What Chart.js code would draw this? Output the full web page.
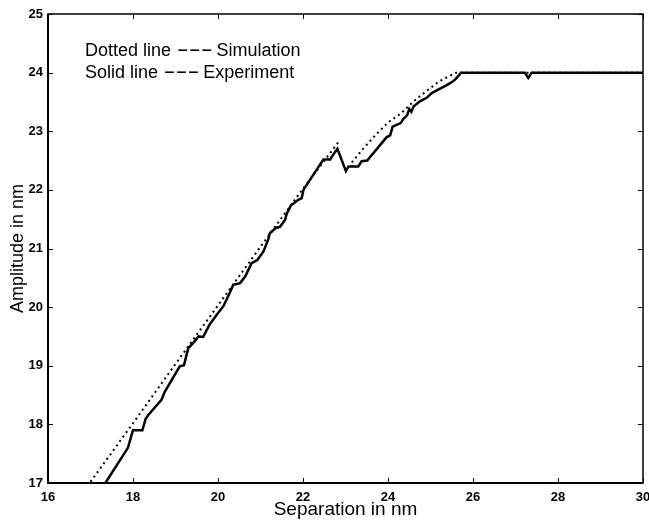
<!DOCTYPE html>
<html>
<head>
<meta charset="utf-8">
<script src="https://cdn.jsdelivr.net/npm/chart.js@4/dist/chart.umd.min.js"></script>
<style>
html,body{margin:0;padding:0;background:#fff;}
canvas{display:block;}
</style>
</head>
<body>
<canvas id="c" width="649" height="525"></canvas>
<script>
// Experiment (solid line)
const expX = [17.35,17.88,18.0,18.22,18.3,18.36,18.67,18.75,19.1,19.2,19.3,19.42,19.54,19.65,19.8,19.97,20.13,20.28,20.36,20.52,20.64,20.79,20.92,21.07,21.18,21.22,21.36,21.46,21.58,21.62,21.72,21.8,21.89,21.97,22.01,22.48,22.64,22.71,22.81,23.01,23.07,23.3,23.38,23.51,23.97,24.05,24.11,24.2,24.3,24.36,24.45,24.5,24.55,24.6,24.75,24.91,25.03,25.18,25.34,25.46,25.58,25.72,27.22,27.3,27.38,30.0];
const expY = [17.0,17.6,17.9,17.9,18.1,18.16,18.42,18.56,18.99,19.01,19.3,19.39,19.5,19.49,19.7,19.87,20.02,20.25,20.38,20.41,20.52,20.75,20.8,20.95,21.15,21.26,21.35,21.37,21.49,21.6,21.74,21.78,21.83,21.86,22.0,22.52,22.52,22.6,22.7,22.32,22.4,22.4,22.49,22.5,22.9,22.93,23.08,23.11,23.14,23.21,23.27,23.38,23.33,23.42,23.51,23.57,23.65,23.71,23.77,23.82,23.88,24.0,24.0,23.91,24.0,24.0];
// Simulation (dotted line); null marks the break after the peak
const simX = [17.0,18.0,19.0,20.0,21.0,22.0,22.86,23.0,23.15,23.4,23.7,24.0,24.3,24.5,24.7,25.2,25.6,30.0];
const simY = [17.02,18.02,19.03,20.03,21.03,22.02,22.84,null,22.47,22.69,22.93,23.15,23.3,23.44,23.57,23.85,24.0,24.0];
// Axes
const xTicks = [16,18,20,22,24,26,28,30];
const yTicks = [17,18,19,20,21,22,23,24,25];
const xTitle = 'Separation in nm';
const yTitle = 'Amplitude in nm';
const note1 = ['Dotted line','---','Simulation'];
const note2 = ['Solid line','---','Experiment'];

const FONT = '"Liberation Sans", Arial, Helvetica, sans-serif';
const toPts = (xs, ys) => xs.map((x, i) => ({x: x, y: ys[i]}));

const boxPlugin = {
  id: 'boxPlugin',
  afterDraw(chart) {
    const ctx = chart.ctx, a = chart.chartArea;
    const xs = chart.scales.x, ys = chart.scales.y;
    ctx.save();
    ctx.strokeStyle = '#000';
    ctx.lineWidth = 1;
    const L = 5;
    ctx.beginPath();
    xTicks.forEach(v => {
      const p = Math.round(xs.getPixelForValue(v)) + 0.5;
      ctx.moveTo(p, a.bottom); ctx.lineTo(p, a.bottom - L);
      ctx.moveTo(p, a.top); ctx.lineTo(p, a.top + L);
    });
    yTicks.forEach(v => {
      const p = Math.round(ys.getPixelForValue(v)) + 0.5;
      ctx.moveTo(a.left, p); ctx.lineTo(a.left + L, p);
      ctx.moveTo(a.right, p); ctx.lineTo(a.right - L, p);
    });
    ctx.stroke();
    ctx.lineWidth = 1.5;
    ctx.strokeRect(a.left, a.top, a.right - a.left, a.bottom - a.top);
    ctx.lineWidth = 2;
    ctx.beginPath();
    ctx.moveTo(a.left, a.top); ctx.lineTo(a.left, a.bottom); ctx.lineTo(a.right, a.bottom);
    ctx.stroke();

    ctx.fillStyle = '#000';
    ctx.font = '18px ' + FONT;
    ctx.textBaseline = 'alphabetic';
    const drawNote = (parts, y, dashX, wordX) => {
      ctx.fillText(parts[0], 85, y);
      ctx.save();
      ctx.translate(dashX, y);
      ctx.scale(2.0, 1.15);
      ctx.fillText(parts[1], 0, 0);
      ctx.restore();
      ctx.fillText(parts[2], wordX, y);
    };
    drawNote(note1, 56, 176.7, 216.5);
    drawNote(note2, 78, 163.4, 203.2);
    ctx.restore();
  }
};

new Chart(document.getElementById('c'), {
  type: 'scatter',
  data: {
    datasets: [
      {
        label: 'Simulation',
        data: toPts(simX, simY),
        showLine: true,
        spanGaps: false,
        borderColor: '#000',
        borderWidth: 2,
        borderDash: [2, 3.5],
        borderCapStyle: 'butt',
        pointRadius: 0,
        tension: 0,
        fill: false
      },
      {
        label: 'Experiment',
        data: toPts(expX, expY),
        showLine: true,
        borderColor: '#000',
        borderWidth: 2.5,
        borderJoinStyle: 'miter',
        pointRadius: 0,
        tension: 0,
        fill: false
      }
    ]
  },
  options: {
    responsive: false,
    devicePixelRatio: 1,
    animation: false,
    layout: { padding: { top: 14, right: 6, left: 0, bottom: 0 } },
    plugins: { legend: { display: false }, tooltip: { enabled: false } },
    scales: {
      x: {
        type: 'linear',
        min: 16, max: 30,
        afterFit: s => { s.height = 42; s.paddingLeft = 0; s.paddingRight = 0; },
        afterBuildTicks: s => { s.ticks = xTicks.map(v => ({value: v})); },
        ticks: { color: '#000', font: { family: FONT, size: 13, weight: 'bold' }, padding: 7, maxRotation: 0, autoSkip: false },
        grid: { display: false, drawTicks: false },
        border: { display: false },
        title: { display: true, text: xTitle, color: '#000', font: { family: FONT, size: 19 }, padding: { top: 0, bottom: 4 } }
      },
      y: {
        type: 'linear',
        min: 17, max: 25,
        afterFit: s => { s.width = 48; },
        afterBuildTicks: s => { s.ticks = yTicks.map(v => ({value: v})); },
        ticks: { color: '#000', font: { family: FONT, size: 13, weight: 'bold' }, padding: 5, autoSkip: false },
        grid: { display: false, drawTicks: false },
        border: { display: false },
        title: { display: true, text: yTitle, color: '#000', font: { family: FONT, size: 18 }, padding: { top: 7, bottom: 0 } }
      }
    }
  },
  plugins: [boxPlugin]
});
</script>
</body>
</html>
